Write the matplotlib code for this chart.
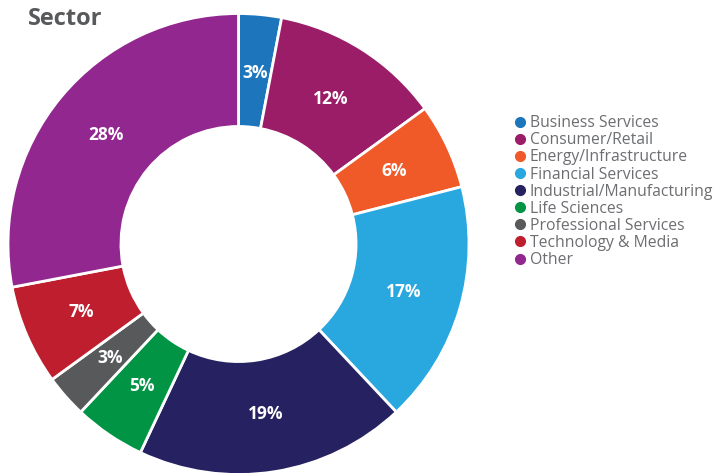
import matplotlib.pyplot as plt
import numpy as np
from matplotlib.lines import Line2D

sectors = [
    "Business Services",
    "Consumer/Retail",
    "Energy/Infrastructure",
    "Financial Services",
    "Industrial/Manufacturing",
    "Life Sciences",
    "Professional Services",
    "Technology & Media",
    "Other",
]
shares = [3, 12, 6, 17, 19, 5, 3, 7, 28]
colors = [
    "#1d76bb", "#9b1c67", "#f05a28", "#29a8e0", "#262262",
    "#009444", "#58595b", "#be1e2d", "#92278f",
]

plt.rcParams["font.family"] = ["Open Sans", "DejaVu Sans"]

fig = plt.figure(figsize=(7.2, 4.73), dpi=100)
ax = fig.add_axes([0.0111, -0.0032, 0.6403, 0.9746])
wedges, _ = ax.pie(
    shares,
    colors=colors,
    startangle=90,
    counterclock=False,
    radius=1.0,
    wedgeprops=dict(width=0.49, edgecolor="white", linewidth=2),
)
# percentage labels in the middle of the ring
for w, v in zip(wedges, shares):
    ang = np.deg2rad((w.theta1 + w.theta2) / 2)
    r = 0.745
    ax.text(r * np.cos(ang), r * np.sin(ang), f"{v}%", ha="center", va="center",
            color="white", fontsize=12.5, fontweight="bold")
ax.set_xlim(-1, 1)
ax.set_ylim(-1, 1)
ax.set_aspect("equal")
ax.axis("off")

fig.text(0.039, 0.96, "Sector", fontsize=17, fontweight="bold", color="#58595b",
         ha="left", va="center")

handles = [Line2D([], [], marker="o", linestyle="none", markersize=7,
                  markerfacecolor=c, markeredgecolor=c) for c in colors]
leg = fig.legend(handles, sectors, loc="upper left", bbox_to_anchor=(0.705, 0.773),
                 frameon=False, fontsize=11.3, labelspacing=0.07, handlelength=0.6,
                 handletextpad=0.3, borderpad=0)
for t in leg.get_texts():
    t.set_color("#6d6e71")

fig.savefig("out.png", dpi=100)
